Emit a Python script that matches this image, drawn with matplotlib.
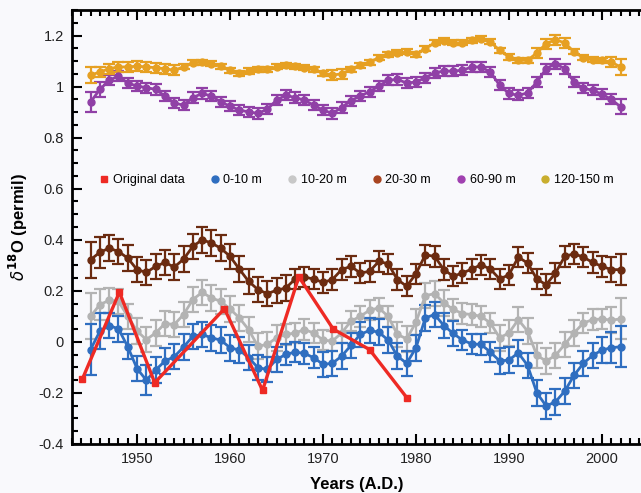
import numpy as np
import matplotlib
matplotlib.use('Agg')
import matplotlib.pyplot as plt
import matplotlib.ticker as ticker

plt.rcParams['font.family'] = ['Liberation Sans', 'DejaVu Sans']

#annual years for the depth series
years = np.arange(1945, 2003)

#original data (red)
orig_years = [1944.1, 1948.1, 1951.9, 1959.4, 1963.5, 1967.4, 1971.1, 1975.0, 1979.0]
orig_vals = [-0.147, 0.195, -0.16, 0.13, -0.19, 0.255, 0.05, -0.03, -0.218]

d0_10 = [-0.03, 0.042, 0.064, 0.051, -0.019, -0.105, -0.15, -0.11, -0.075, -0.058,
         -0.02, 0.022, 0.029, 0.016, 0.007, -0.023, -0.032, -0.062, -0.101, -0.108,
         -0.069, -0.049, -0.04, -0.045, -0.062, -0.088, -0.084, -0.056, -0.014, 0.029,
         0.045, 0.038, 0.007, -0.056, -0.084, -0.023, 0.094, 0.107, 0.064, 0.033,
         0.007, -0.008, -0.01, -0.04, -0.075, -0.071, -0.043, -0.092, -0.2, -0.251,
         -0.235, -0.193, -0.131, -0.084, -0.053, -0.032, -0.023, -0.019]
e0_10 = [0.10, 0.07, 0.05, 0.05, 0.05, 0.05, 0.06, 0.05, 0.05, 0.05,
         0.05, 0.05, 0.05, 0.05, 0.05, 0.05, 0.05, 0.05, 0.05, 0.05,
         0.05, 0.04, 0.04, 0.04, 0.04, 0.05, 0.05, 0.05, 0.05, 0.05,
         0.05, 0.05, 0.05, 0.05, 0.05, 0.05, 0.05, 0.05, 0.05, 0.05,
         0.04, 0.04, 0.04, 0.04, 0.05, 0.05, 0.05, 0.05, 0.05, 0.05,
         0.05, 0.05, 0.05, 0.05, 0.05, 0.05, 0.06, 0.08]

d10_20 = [0.1, 0.146, 0.163, 0.159, 0.1, 0.042, 0.009, 0.035, 0.072, 0.068,
          0.107, 0.166, 0.194, 0.172, 0.159, 0.129, 0.094, 0.048, -0.017, -0.01,
          0.016, 0.029, 0.035, 0.048, 0.035, 0.007, 0.003, 0.035, 0.081, 0.1,
          0.124, 0.133, 0.1, 0.029, 0.012, 0.077, 0.181, 0.189, 0.153, 0.127,
          0.111, 0.107, 0.1, 0.074, 0.016, 0.035, 0.087, 0.042, -0.053, -0.075,
          -0.053, -0.01, 0.035, 0.074, 0.087, 0.09, 0.085, 0.09]
e10_20 = [0.09, 0.06, 0.05, 0.05, 0.05, 0.05, 0.05, 0.05, 0.05, 0.05,
          0.05, 0.05, 0.05, 0.05, 0.05, 0.05, 0.05, 0.05, 0.05, 0.05,
          0.05, 0.04, 0.04, 0.04, 0.04, 0.04, 0.04, 0.04, 0.04, 0.04,
          0.04, 0.04, 0.04, 0.05, 0.05, 0.05, 0.05, 0.05, 0.05, 0.04,
          0.04, 0.04, 0.04, 0.04, 0.05, 0.05, 0.05, 0.05, 0.05, 0.05,
          0.05, 0.05, 0.05, 0.04, 0.04, 0.04, 0.05, 0.08]

d20_30 = [0.322, 0.351, 0.367, 0.354, 0.328, 0.283, 0.272, 0.296, 0.311, 0.293,
          0.324, 0.374, 0.4, 0.387, 0.367, 0.335, 0.285, 0.237, 0.205, 0.189,
          0.202, 0.211, 0.246, 0.254, 0.246, 0.233, 0.244, 0.283, 0.296, 0.27,
          0.276, 0.315, 0.306, 0.244, 0.218, 0.267, 0.341, 0.335, 0.283, 0.257,
          0.27, 0.285, 0.302, 0.285, 0.246, 0.263, 0.332, 0.309, 0.246, 0.224,
          0.27, 0.335, 0.345, 0.332, 0.311, 0.296, 0.283, 0.283]
e20_30 = [0.07, 0.06, 0.05, 0.05, 0.05, 0.05, 0.05, 0.05, 0.05, 0.05,
          0.05, 0.05, 0.05, 0.05, 0.05, 0.05, 0.05, 0.05, 0.05, 0.05,
          0.05, 0.05, 0.04, 0.04, 0.04, 0.04, 0.04, 0.04, 0.04, 0.04,
          0.04, 0.04, 0.04, 0.04, 0.04, 0.04, 0.04, 0.04, 0.04, 0.04,
          0.04, 0.04, 0.04, 0.04, 0.04, 0.04, 0.04, 0.04, 0.04, 0.04,
          0.04, 0.04, 0.04, 0.04, 0.04, 0.04, 0.05, 0.06]

d60_90 = [0.94, 0.989, 1.025, 1.041, 1.014, 1.002, 0.996, 0.989, 0.963, 0.936,
          0.927, 0.957, 0.973, 0.963, 0.94, 0.923, 0.908, 0.901, 0.895, 0.911,
          0.947, 0.966, 0.957, 0.947, 0.927, 0.908, 0.895, 0.918, 0.945, 0.963,
          0.98, 1.002, 1.025, 1.028, 1.014, 1.018, 1.035, 1.054, 1.061, 1.061,
          1.064, 1.077, 1.077, 1.057, 1.005, 0.973, 0.966, 0.975, 1.018, 1.07,
          1.09, 1.07, 1.018, 0.993, 0.986, 0.97, 0.95, 0.921]
e60_90 = [0.04, 0.03, 0.02, 0.02, 0.02, 0.02, 0.02, 0.02, 0.02, 0.02,
          0.02, 0.02, 0.02, 0.02, 0.02, 0.02, 0.02, 0.02, 0.02, 0.02,
          0.02, 0.02, 0.02, 0.02, 0.02, 0.02, 0.02, 0.02, 0.02, 0.02,
          0.02, 0.02, 0.02, 0.02, 0.02, 0.02, 0.02, 0.02, 0.02, 0.02,
          0.02, 0.02, 0.02, 0.02, 0.02, 0.02, 0.02, 0.02, 0.02, 0.02,
          0.02, 0.02, 0.02, 0.02, 0.02, 0.02, 0.02, 0.03]

d120_150 = [1.045, 1.057, 1.07, 1.077, 1.077, 1.08, 1.077, 1.074, 1.07, 1.064,
            1.077, 1.093, 1.096, 1.09, 1.08, 1.064, 1.053, 1.061, 1.067, 1.067,
            1.077, 1.084, 1.08, 1.074, 1.067, 1.053, 1.045, 1.05, 1.067, 1.084,
            1.096, 1.113, 1.127, 1.132, 1.136, 1.127, 1.149, 1.171, 1.179, 1.171,
            1.171, 1.182, 1.188, 1.175, 1.142, 1.116, 1.103, 1.103, 1.132, 1.168,
            1.184, 1.171, 1.136, 1.113, 1.106, 1.103, 1.096, 1.077]
e120_150 = [0.03, 0.02, 0.02, 0.02, 0.02, 0.02, 0.02, 0.02, 0.02, 0.02,
            0.01, 0.01, 0.01, 0.01, 0.01, 0.01, 0.01, 0.01, 0.01, 0.01,
            0.01, 0.01, 0.01, 0.01, 0.01, 0.01, 0.02, 0.02, 0.01, 0.01,
            0.01, 0.01, 0.01, 0.01, 0.01, 0.01, 0.01, 0.01, 0.01, 0.01,
            0.01, 0.01, 0.01, 0.01, 0.01, 0.01, 0.01, 0.01, 0.02, 0.02,
            0.02, 0.02, 0.01, 0.01, 0.01, 0.01, 0.02, 0.03]

bg = '#f9f9fc'
fig = plt.figure(figsize=(6.41, 4.93), dpi=100, facecolor=bg)
ax = fig.add_axes([0.1123, 0.0994, 0.8877, 0.8803], facecolor=bg)

#draw order: gray under blue, red on top
series = [
    (d10_20, e10_20, '#b3b3b3', '10-20 m'),
    (d20_30, e20_30, '#6b2b10', '20-30 m'),
    (d60_90, e60_90, '#9040a6', '60-90 m'),
    (d120_150, e120_150, '#e6a022', '120-150 m'),
    (d0_10, e0_10, '#2f6ec0', '0-10 m'),
]
handles = {}
for vals, errs, col, lab in series:
    h = ax.errorbar(years, vals, yerr=errs, fmt='-o', color=col, ms=5, lw=2,
                    elinewidth=1.6, capsize=4, capthick=1.6, label=lab)
    handles[lab] = h

ax.plot(orig_years, orig_vals, '-s', color='#ee2a24', lw=2.4, ms=4.5, zorder=5)

#legend with markers only
leg_items = [('Original data', 's', '#ee2a24'), ('0-10 m', 'o', '#2f6ec0'),
             ('10-20 m', 'o', '#c8c8c8'), ('20-30 m', 'o', '#a84420'),
             ('60-90 m', 'o', '#a040b0'), ('120-150 m', 'o', '#c9ae2e')]
leg_handles = [plt.Line2D([], [], ls='none', marker=m, color=c, ms=5) for _, m, c in leg_items]
ax.legend(leg_handles, [t for t, _, _ in leg_items], loc='center', bbox_to_anchor=(0.5, 0.608),
          ncol=6, frameon=False, fontsize=9, handlelength=0.8, handletextpad=0.3,
          columnspacing=2.0)

ax.set_xlim(1943, 2004.2)
ax.set_ylim(-0.4, 1.3)
ax.xaxis.set_major_locator(ticker.MultipleLocator(10))
ax.xaxis.set_minor_locator(ticker.MultipleLocator(1))
ax.yaxis.set_major_locator(ticker.MultipleLocator(0.2))
ax.yaxis.set_minor_locator(ticker.MultipleLocator(0.05))
ax.yaxis.set_major_formatter(ticker.FuncFormatter(lambda v, p: '%g' % round(v, 2)))
ax.tick_params(which='both', direction='in', top=True, right=False, width=1.5,
               labelsize=10.5, labelcolor='#222222', pad=6)
ax.tick_params(which='major', length=7)
ax.tick_params(which='minor', length=4)
for s in ['left', 'bottom', 'top']:
    ax.spines[s].set_linewidth(2)
ax.spines['right'].set_visible(False)

ax.set_xlabel('Years (A.D.)', fontsize=12, fontweight='bold', labelpad=8)
ax.set_ylabel(r'$\delta^{\mathbf{18}}$O (permil)', fontsize=12, fontweight='bold', labelpad=6)

plt.savefig('out.png', dpi=100, facecolor=bg)
